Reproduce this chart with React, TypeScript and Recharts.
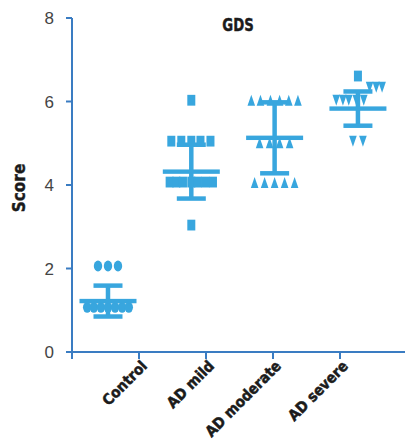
import React from "react";
import { ScatterChart, Scatter, XAxis, YAxis, ErrorBar } from "recharts";

const groups = ["Control", "AD mild", "AD moderate", "AD severe"];
const yTicks = [0, 2, 4, 6, 8];

// [offset inside the column, score]
const controlPts = [
  [-0.12, 2.06], [0, 2.06], [0.12, 2.06],
  [-0.25, 1.07], [-0.17, 1.07], [-0.085, 1.07], [0, 1.07], [0.085, 1.07], [0.17, 1.07], [0.25, 1.07],
];
const mildPts = [
  [0, 6.03],
  [-0.24, 5.05], [-0.12, 5.05], [0, 5.05], [0.11, 5.05], [0.23, 5.05],
  [-0.26, 4.07], [-0.18, 4.07], [-0.1, 4.07], [0, 4.07], [0.08, 4.07], [0.17, 4.07], [0.26, 4.07],
  [0, 3.04],
];
const moderatePts = [
  [-0.28, 6.03], [-0.17, 6.03], [-0.05, 6.03], [0.06, 6.03], [0.17, 6.03], [0.28, 6.03],
  [-0.18, 5.01], [-0.06, 5.01], [0.06, 5.01], [0.18, 5.01],
  [-0.24, 4.06], [-0.12, 4.06], [0, 4.06], [0.12, 4.06], [0.24, 4.06],
];
const severePts = [
  [0.14, 6.34], [0.22, 6.34], [0.29, 6.34],
  [-0.26, 6.03], [-0.18, 6.03], [-0.11, 6.03], [-0.02, 6.03], [0.07, 6.03],
  [-0.06, 5.05], [0.06, 5.05],
];
const severeSquare = [[0, 6.61]];

const means = [1.22, 4.32, 5.13, 5.83];
const sds = [0.37, 0.645, 0.85, 0.41];

const BLUE = "#38a6de";
const AXIS = "#3a7cc2";
const COND = "'DejaVu Sans Condensed', 'Liberation Sans Narrow', 'DejaVu Sans', sans-serif";

const toRows = (pts: number[][], col: number) => pts.map(([dx, y]) => ({ x: col + dx, y }));
const meanRows = means.map((m, i) => ({ x: i + 1, y: m, sd: sds[i] }));
const labelRows = groups.map((g, i) => ({ x: i + 1, y: 0, name: g }));

const circle = (p: any) => <ellipse cx={p.cx} cy={p.cy} rx={4.2} ry={5.4} fill={BLUE} />;
const square = (p: any) => <rect x={p.cx - 4} y={p.cy - 5.4} width={8} height={10.8} fill={BLUE} />;
const triUp = (p: any) => (
  <path d={`M${p.cx},${p.cy - 5.5}L${p.cx + 3.8},${p.cy + 5.5}L${p.cx - 3.8},${p.cy + 5.5}Z`} fill={BLUE} />
);
const triDown = (p: any) => (
  <path d={`M${p.cx - 3.8},${p.cy - 5.5}L${p.cx + 3.8},${p.cy - 5.5}L${p.cx},${p.cy + 5.5}Z`} fill={BLUE} />
);
const meanBar = (p: any) => <rect x={p.cx - 28.5} y={p.cy - 2.2} width={57} height={4.4} fill={BLUE} />;
const nothing = () => <g />;

const XTick = (props: any) => {
  const { x, y, payload } = props;
  const name = payload.value > 0 ? groups[payload.value - 1] : "";
  const tx = x + 9;
  const ty = y + 6;
  return (
    <text
      x={tx}
      y={ty}
      transform={`rotate(-45 ${tx} ${ty})`}
      textAnchor="end"
      fontFamily={COND}
      fontWeight="bold"
      fontSize={15}
      fill="#1b1b1b"
      stroke="#1b1b1b"
      strokeWidth={0.5}
    >
      {name}
    </text>
  );
};

export default function App() {
  return (
    <div style={{ position: "absolute", left: 0, top: 0, width: 405, height: 440 }}>
      <ScatterChart width={405} height={440} margin={{ top: 18, right: 0, bottom: 0, left: 0 }}>
        <XAxis
          xAxisId="lab"
          type="number"
          dataKey="x"
          domain={[0, 4.97]}
          ticks={[0, 1, 2, 3, 4]}
          interval={0}
          allowDataOverflow
          height={88}
          tickSize={7}
          axisLine={{ stroke: AXIS, strokeWidth: 2 }}
          tickLine={{ stroke: AXIS, strokeWidth: 2 }}
          tick={<XTick />}
        />
        <XAxis
          xAxisId="d"
          orientation="top"
          height={0}
          type="number"
          dataKey="x"
          domain={[0.568, 4.565]}
          allowDataOverflow
          hide
        />
        <YAxis
          type="number"
          dataKey="y"
          domain={[0, 8]}
          ticks={yTicks}
          interval={0}
          width={72}
          tickSize={6}
          tickMargin={12}
          axisLine={{ stroke: AXIS, strokeWidth: 2 }}
          tickLine={{ stroke: AXIS, strokeWidth: 2 }}
          tick={{ fill: "#444", fontSize: 17, fontFamily: "'Liberation Sans', Arial, sans-serif" }}
        />
        <Scatter xAxisId="lab" data={labelRows} shape={nothing} isAnimationActive={false} />
        <Scatter xAxisId="d" data={toRows(controlPts, 1)} shape={circle} isAnimationActive={false} />
        <Scatter xAxisId="d" data={toRows(mildPts, 2)} shape={square} isAnimationActive={false} />
        <Scatter xAxisId="d" data={toRows(moderatePts, 3)} shape={triUp} isAnimationActive={false} />
        <Scatter xAxisId="d" data={toRows(severePts, 4)} shape={triDown} isAnimationActive={false} />
        <Scatter xAxisId="d" data={toRows(severeSquare, 4)} shape={square} isAnimationActive={false} />
        <Scatter xAxisId="d" data={meanRows} shape={meanBar} isAnimationActive={false}>
          <ErrorBar dataKey="sd" direction="y" width={14.5} stroke={BLUE} strokeWidth={4.5} />
        </Scatter>
      </ScatterChart>
      <svg width={405} height={440} style={{ position: "absolute", left: 0, top: 0, pointerEvents: "none" }}>
        <text
          x={238}
          y={31}
          textAnchor="middle"
          fontFamily={COND}
          fontWeight="bold"
          fontSize={18}
          fill="#1b1b1b"
          stroke="#1b1b1b"
          strokeWidth={0.4}
          transform="translate(238 0) scale(0.82 1) translate(-238 0)"
        >
          GDS
        </text>
        <text
          x={0}
          y={0}
          textAnchor="middle"
          fontFamily={COND}
          fontWeight="bold"
          fontSize={17}
          fill="#1b1b1b"
          stroke="#1b1b1b"
          strokeWidth={0.4}
          transform="translate(25 188) rotate(-90)"
        >
          Score
        </text>
      </svg>
    </div>
  );
}
